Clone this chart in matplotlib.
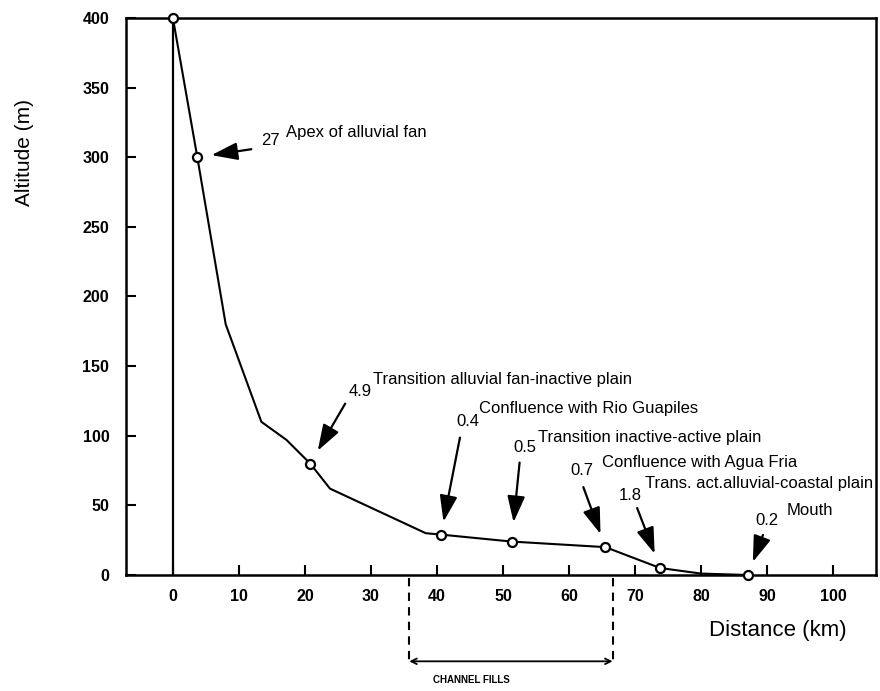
import matplotlib
matplotlib.use('Agg')
import matplotlib.pyplot as plt

# River profile (distance from source in km, altitude in m)
profile_km = [0, 3.7, 8.0, 13.4, 17.2, 20.8, 23.8, 38.3, 40.6, 51.3, 65.5, 73.8, 80.0, 87.1]
profile_alt = [400, 300, 180, 110, 97, 80, 62, 30, 29, 24, 20, 5, 1, 0]

# Stations marked on the profile
station_km = [0, 3.7, 20.8, 40.6, 51.3, 65.5, 73.8, 87.1]
station_alt = [400, 300, 80, 29, 24, 20, 5, 0]

# Gradients (m/km) and descriptions for annotated stations (skip the source)
gradients = ['27', '4.9', '0.4', '0.5', '0.7', '1.8', '0.2']
descriptions = ['Apex of alluvial fan',
                'Transition alluvial fan-inactive plain',
                'Confluence with Rio Guapiles',
                'Transition inactive-active plain',
                'Confluence with Agua Fria',
                'Trans. act.alluvial-coastal plain',
                'Mouth']

channel_fills = [35.8, 66.6]

x_ticks = list(range(0, 101, 10))
y_ticks = list(range(0, 401, 50))

# offsets in pixels from each station (x right, y up): arrow tip, arrow tail, number, label
tips = [(14, 3), (10, 11), (2, 13), (4, 19), (-1, 14), (-3, 15), (5, 13)]
tails = [(54, 8), (35, 60), (19, 97), (8, 79), (-22, 60), (-23, 60), (15, 40)]
num_pos = [(64, 12), (38, 68), (15, 109), (2, 90), (-35, 72), (-41, 68), (7, 50)]
lab_pos = [(89, 20), (63, 80), (38, 122), (26, 100), (-3, 80), (-15, 80), (39, 60)]

plt.rcParams['font.family'] = ['Liberation Sans', 'DejaVu Sans']

fig = plt.figure(figsize=(8.8, 6.91), dpi=100)
ax = fig.add_axes([0.1432, 0.1679, 0.8523, 0.8061])

ax.axvline(0, color='black', lw=1.6, zorder=2)
ax.plot(profile_km, profile_alt, color='black', lw=1.5, zorder=3)
ax.plot(station_km, station_alt, 'o', ms=6.5, mfc='white', mec='black',
        mew=1.6, zorder=4, clip_on=False)

for i in range(len(gradients)):
    xy = (station_km[i + 1], station_alt[i + 1])
    tx, ty = tips[i]
    sx, sy = tails[i]
    ax.annotate('', xy=xy, xytext=(sx, sy), textcoords='offset pixels',
                arrowprops=dict(arrowstyle='-|>,head_length=0.8,head_width=0.27',
                                color='black', lw=1.6, mutation_scale=20,
                                shrinkA=0,
                                shrinkB=((tx ** 2 + ty ** 2) ** 0.5) * 0.72),
                zorder=5)
    nx, ny = num_pos[i]
    ax.annotate(gradients[i], xy=xy, xytext=(nx, ny), textcoords='offset pixels',
                ha='left', va='baseline', fontsize=12)
    lx, ly = lab_pos[i]
    ax.annotate(descriptions[i], xy=xy, xytext=(lx, ly), textcoords='offset pixels',
                ha='left', va='baseline', fontsize=12, annotation_clip=False)

ax.set_xlim(-7.1, 106.5)
ax.set_ylim(0, 400)
ax.set_xticks(x_ticks)
ax.set_yticks(y_ticks)
ax.tick_params(axis='both', direction='in', length=7, width=1.5,
               labelsize=11.5)
ax.tick_params(axis='x', pad=10)
ax.tick_params(axis='y', pad=12)
for lab in ax.get_xticklabels() + ax.get_yticklabels():
    lab.set_fontweight('bold')
for s in ax.spines.values():
    s.set_linewidth(1.8)

# channel fills bracket below the axis
for xc in channel_fills:
    ax.plot([xc, xc], [-2, -63], color='black', lw=1.5, ls=(0, (4, 3)),
            clip_on=False)
ax.annotate('', xy=(channel_fills[0], -62), xytext=(channel_fills[1], -62),
            arrowprops=dict(arrowstyle='<->', color='black', lw=1.3,
                            shrinkA=0, shrinkB=0), annotation_clip=False)
ax.text(sum(channel_fills) / 2 - 6, -75.5, 'CHANNEL FILLS', ha='center',
        va='center', fontsize=7, fontweight='bold', clip_on=False)

fig.text(0.884, 0.088, 'Distance (km)', ha='center', va='center', fontsize=16)
fig.text(0.028, 0.78, 'Altitude (m)', ha='center', va='center', fontsize=15,
         rotation=90)

fig.savefig('out.png', dpi=100)
